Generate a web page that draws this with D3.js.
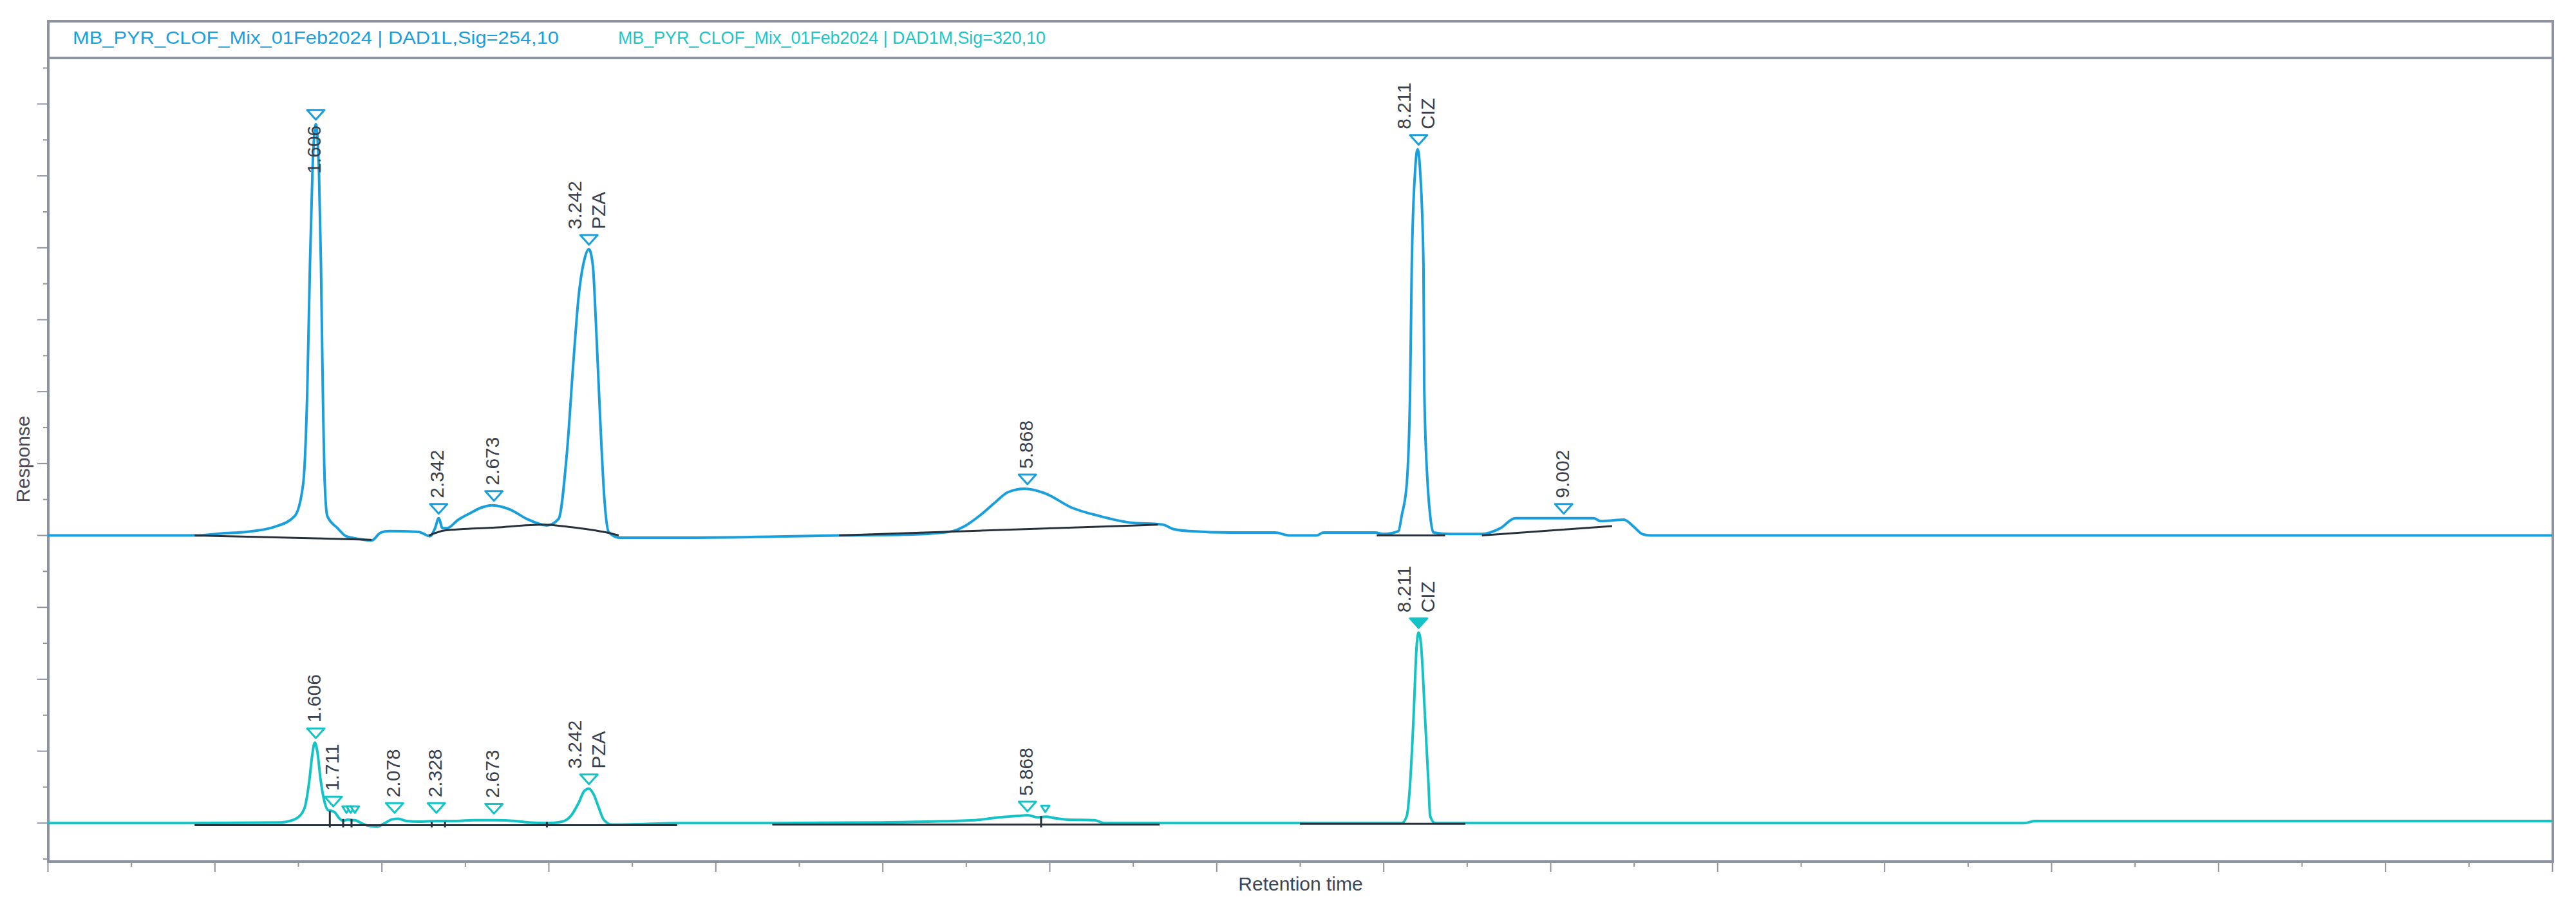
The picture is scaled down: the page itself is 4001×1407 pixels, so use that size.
<!DOCTYPE html>
<html><head><meta charset="utf-8">
<script src="https://cdn.jsdelivr.net/npm/d3@7"></script>
<style>body{margin:0;background:#fff}svg{display:block}</style>
</head><body>
<svg id="c" width="4001" height="1407"></svg>
<script>
// ---------- data ----------
const titles = ["MB_PYR_CLOF_Mix_01Feb2024 | DAD1L,Sig=254,10", "MB_PYR_CLOF_Mix_01Feb2024 | DAD1M,Sig=320,10"];
const xLabel = "Retention time";
const yLabel = "Response";
const xTicks = d3.range(0, 15.001, 0.5);
const yTicks = d3.range(-50, 1050.1, 50);
const blueOffset = 400;   // DAD1L trace is stacked above DAD1M

// DAD1L (254 nm) trace: [time, response]
const blueTrace = [[0,0],[0.88,0],[1.05,3],[1.19,5],[1.36,12],[1.48,27],[1.53,71],[1.555,202],[1.571,376],[1.586,506],[1.606,572],[1.625,506],[1.637,376],[1.648,202],[1.66,71],[1.675,27],[1.737,10],[1.787,-1],[1.87,-5],[1.94,-7],[1.995,4],[2.045,6],[2.22,5],[2.29,-1],[2.32,10],[2.342,24],[2.365,10],[2.39,10],[2.46,22],[2.53,31],[2.60,39],[2.665,42],[2.77,36],[2.87,23],[2.99,14],[3.06,23],[3.11,115],[3.15,245],[3.18,332],[3.215,384],[3.242,398],[3.265,376],[3.285,289],[3.31,158],[3.335,49],[3.36,5],[3.42,-3],[3.88,-3],[4.74,0],[5.11,1],[5.31,3],[5.42,6],[5.50,14],[5.59,29],[5.68,47],[5.75,60],[5.85,65],[5.98,58],[6.13,39],[6.30,27],[6.48,18],[6.68,15],[6.74,9],[6.84,6],[7.09,4],[7.35,4],[7.44,0],[7.60,0],[7.64,4],[7.95,4],[8.0,2],[8.09,6],[8.11,28],[8.14,72],[8.16,202],[8.17,376],[8.19,507],[8.205,537],[8.22,507],[8.24,376],[8.245,202],[8.265,72],[8.28,28],[8.30,4],[8.40,2],[8.59,2],[8.70,10],[8.79,24],[9.0,24],[9.26,24],[9.30,20],[9.38,21],[9.44,22],[9.50,12],[9.55,2],[9.60,0],[15,0]];

// DAD1M (320 nm) trace: [time, response]
const cyanTrace = [[0,0],[0.88,0],[1.40,1],[1.45,3],[1.50,8],[1.54,22],[1.565,55],[1.585,95],[1.60,112],[1.615,100],[1.635,60],[1.66,28],[1.68,18],[1.70,17],[1.72,15],[1.745,7],[1.77,3],[1.80,5],[1.82,4],[1.84,4],[1.87,1],[1.91,-3],[1.97,-5],[2.02,0],[2.06,5],[2.10,6],[2.15,3],[2.22,2],[2.33,3],[2.45,3],[2.55,4],[2.68,4],[2.80,3],[2.88,1],[3.00,0],[3.08,2],[3.13,9],[3.18,28],[3.215,45],[3.242,48],[3.27,40],[3.30,22],[3.33,5],[3.38,-2],[3.45,-2],[3.80,0],[4.34,0],[5.0,1],[5.55,4],[5.66,7],[5.81,10],[5.87,11],[5.93,8],[5.98,9],[6.03,7],[6.10,5],[6.27,4],[6.33,0],[8.11,0],[8.14,10],[8.16,55],[8.18,144],[8.20,249],[8.211,265],[8.225,249],[8.25,144],[8.27,55],[8.28,10],[8.31,0],[11.84,0],[11.90,3],[15,3]];

// integration baselines
const blueBaselines = [
  [[0.88,0],[1.94,-6]],
  [[2.283,0],[2.38,7],[2.68,11],[2.97,15],[3.12,12],[3.35,4],[3.42,0]],
  [[4.74,0],[6.65,15]],
  [[7.96,0],[8.37,0]],
  [[8.59,0],[9.37,13]]
];
const cyanBaselines = [
  [[0.88,-3],[3.77,-3]],
  [[4.34,-2],[6.66,-2]],
  [[7.50,-1],[8.49,-1]]
];
// peak separation drop lines (time, top response)
const cyanDrops = [[1.69,15],[1.77,4],[1.82,4],[2.30,0],[2.38,0],[2.99,0],[5.95,8]];

// peak markers: rt position, apex response, label lines
const bluePeaks = [
  {rt:1.606, v:572, text:["1.606"]},
  {rt:2.342, v:24, text:["2.342"]},
  {rt:2.673, v:42, text:["2.673"]},
  {rt:3.242, v:398, text:["3.242","PZA"]},
  {rt:5.868, v:65, text:["5.868"]},
  {rt:8.211, v:537, text:["8.211","CIZ"]},
  {rt:9.08, v:24, text:["9.002"]}
];
const cyanPeaks = [
  {rt:1.606, v:112, text:["1.606"]},
  {rt:1.711, v:17, text:["1.711"]},
  {rt:1.79, v:8, text:[], small:true},
  {rt:1.815, v:8, text:[], small:true},
  {rt:1.84, v:8, text:[], small:true},
  {rt:2.078, v:8, text:["2.078"]},
  {rt:2.328, v:8, text:["2.328"]},
  {rt:2.673, v:7, text:["2.673"]},
  {rt:3.242, v:48, text:["3.242","PZA"]},
  {rt:5.868, v:10, text:["5.868"]},
  {rt:5.975, v:9, text:[], small:true},
  {rt:8.211, v:265, text:["8.211","CIZ"], filled:true}
];

// ---------- drawing ----------
const blueColor = "#189fdc", cyanColor = "#14c3c6", baseColor = "#27313b", frameColor = "#8d93a0";
const svg = d3.select("#c");
const L = 75, R = 3965, T = 33, H = 90, B = 1338;

const x = d3.scaleLinear().domain([0, 15]).range([74, 3964]);
const y = d3.scaleLinear().domain([-53.5, 1064]).range([B, H]);

// header texts
svg.append("text").attr("x", 113).attr("y", 68).attr("font-family", "Liberation Sans, Arial, sans-serif")
  .attr("font-size", 28).attr("fill", "#1a9fdf").attr("textLength", 755).attr("lengthAdjust", "spacingAndGlyphs").text(titles[0]);
svg.append("text").attr("x", 960).attr("y", 68).attr("font-family", "Liberation Sans, Arial, sans-serif")
  .attr("font-size", 28).attr("fill", "#1cc6c8").attr("textLength", 664).attr("lengthAdjust", "spacingAndGlyphs").text(titles[1]);

// axes
const gy = svg.append("g").attr("transform", `translate(${L},0)`);
gy.selectAll("line").data(yTicks).join("line")
  .attr("x1", d => d % 100 === 0 ? -17 : -8).attr("x2", 0)
  .attr("y1", d => y(d)).attr("y2", d => y(d))
  .attr("stroke", frameColor).attr("stroke-width", 2);

const xAxis = d3.axisBottom(x).tickValues(xTicks).tickFormat("").tickSizeOuter(0)
  .tickSize(8);
const gx = svg.append("g").attr("transform", `translate(0,${B})`).call(xAxis);
gx.select(".domain").remove();
gx.selectAll(".tick line").attr("stroke", frameColor).attr("stroke-width", 2)
  .attr("y2", d => Number.isInteger(d) ? 16 : 8);

// frame
svg.append("rect").attr("x", L).attr("y", T).attr("width", R - L).attr("height", B - T)
  .attr("fill", "none").attr("stroke", frameColor).attr("stroke-width", 4);
svg.append("line").attr("x1", L).attr("x2", R).attr("y1", H).attr("y2", H)
  .attr("stroke", frameColor).attr("stroke-width", 4);

// axis titles
svg.append("text").attr("transform", `translate(46,713) rotate(-90)`).attr("text-anchor", "middle")
  .attr("font-family", "Liberation Sans, Arial, sans-serif").attr("font-size", 30).attr("fill", "#4d4a55").text(yLabel);
svg.append("text").attr("x", 2020).attr("y", 1383).attr("text-anchor", "middle")
  .attr("font-family", "Liberation Sans, Arial, sans-serif").attr("font-size", 30).attr("fill", "#3c4656").text(xLabel);

const plot = svg.append("g");
const line = off => d3.line().x(d => x(d[0])).y(d => y(d[1] + off)).curve(d3.curveMonotoneX);

// traces
plot.append("path").datum(blueTrace).attr("d", line(blueOffset)).attr("fill", "none")
  .attr("stroke", blueColor).attr("stroke-width", 4).attr("stroke-linejoin", "round");
plot.append("path").datum(cyanTrace).attr("d", line(0)).attr("fill", "none")
  .attr("stroke", cyanColor).attr("stroke-width", 4).attr("stroke-linejoin", "round");

// baselines
plot.selectAll(".bb").data(blueBaselines).join("path").attr("d", line(blueOffset))
  .attr("fill", "none").attr("stroke", baseColor).attr("stroke-width", 3);
plot.selectAll(".cb").data(cyanBaselines).join("path").attr("d", line(0))
  .attr("fill", "none").attr("stroke", baseColor).attr("stroke-width", 3);
plot.selectAll(".dr").data(cyanDrops).join("line")
  .attr("x1", d => x(d[0])).attr("x2", d => x(d[0]))
  .attr("y1", d => y(d[1]) - 2).attr("y2", d => y(-6))
  .attr("stroke", baseColor).attr("stroke-width", 3);

// peak markers and labels
function drawPeaks(peaks, off, color) {
  const g = plot.append("g");
  peaks.forEach(p => {
    const cx = x(p.rt);
    const w = p.small ? 13 : 27, h = p.small ? 10 : 15;
    const bottom = y(p.v + off) - 7;
    const top = bottom - h;
    g.append("path").attr("d", `M${cx - w / 2},${top}L${cx + w / 2},${top}L${cx},${bottom}Z`)
      .attr("fill", p.filled ? color : "#fff").attr("stroke", color).attr("stroke-width", 3)
      .attr("stroke-linejoin", "round");
    const n = p.text.length;
    p.text.forEach((t, i) => {
      const dx = n === 1 ? 0 : (i === 0 ? -20 : 17);
      const est = t.length * 16;
      const above = top - 9 - est > H + 4;
      const ty = above ? top - 9 : bottom + 9;
      g.append("text").attr("transform", `translate(${cx + dx},${ty}) rotate(-90)`)
        .attr("text-anchor", above ? "start" : "end").attr("dominant-baseline", "middle")
        .attr("font-family", "Liberation Sans, Arial, sans-serif").attr("font-size", 30)
        .attr("fill", "#3a3f4c").text(t);
    });
  });
}
drawPeaks(bluePeaks, blueOffset, blueColor);
drawPeaks(cyanPeaks, 0, cyanColor);
</script>
</body></html>
